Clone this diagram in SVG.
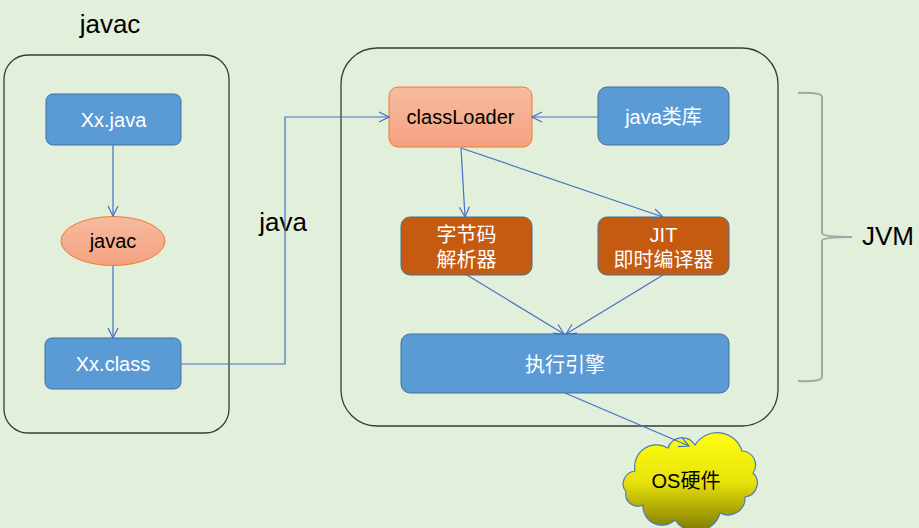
<svg xmlns="http://www.w3.org/2000/svg" width="919" height="528" viewBox="0 0 919 528">
<defs>
<linearGradient id="gOr" x1="0" y1="0" x2="0" y2="1"><stop offset="0" stop-color="#F7BBA0"/><stop offset="1" stop-color="#F4A280"/></linearGradient>
<linearGradient id="gCloud" x1="0" y1="0" x2="0" y2="1"><stop offset="0" stop-color="#FFFF10"/><stop offset="0.5" stop-color="#E8E20A"/><stop offset="1" stop-color="#7E7A00"/></linearGradient>
<marker id="arr" viewBox="0 0 12 12" refX="11" refY="6" markerWidth="12" markerHeight="12" markerUnits="userSpaceOnUse" orient="auto"><path d="M1 1 L11 6 L1 11" fill="none" stroke="#4472C4" stroke-width="1.2"/></marker>
<style>
.cont{fill:none;stroke:#3A3A3A;stroke-width:1.3}
.blue{fill:#5B9BD5;stroke:#41719C;stroke-width:1}
.rust{fill:#C55A11;stroke:#41719C;stroke-width:1}
.org{fill:url(#gOr);stroke:#ED7D31;stroke-width:1}
.t{font-family:"Liberation Sans","Noto Sans CJK SC",sans-serif;font-size:20px;text-anchor:middle}
.w{fill:#FFFFFF}
.k{fill:#000000}
.big{font-size:26px}
.c{fill:none;stroke:#4472C4;stroke-width:1.2;marker-end:url(#arr)}
</style>
</defs>
<rect width="919" height="528" fill="#E2EFDA"/>
<g id="javac-container">
<rect class="cont" x="4" y="55" width="225" height="378" rx="24"/>
<text class="t k big" x="110" y="33">javac</text>
</g>
<g id="jvm-container">
<rect class="cont" x="341" y="48" width="437" height="378" rx="36"/>
</g>
<text class="t k big" x="283" y="231">java</text>
<g id="xx-java">
<rect class="blue" x="46" y="94" width="135" height="51" rx="7"/>
<text class="t w" x="113.5" y="127">Xx.java</text>
</g>
<g id="javac">
<ellipse cx="113" cy="241" rx="52" ry="24.5" fill="url(#gOr)" stroke="#ED7D31" stroke-width="1"/>
<text class="t k" x="113" y="248">javac</text>
</g>
<g id="xx-class">
<rect class="blue" x="45" y="338" width="136" height="51" rx="7"/>
<text class="t w" x="113" y="371">Xx.class</text>
</g>
<g id="classloader">
<rect class="org" x="389" y="87" width="143" height="60" rx="9"/>
<text class="t k" x="460.5" y="124">classLoader</text>
</g>
<g id="java-lib">
<rect class="blue" x="598" y="87" width="131" height="58" rx="9"/>
<text class="t w" x="663.5" y="124">java类库</text>
</g>
<g id="bytecode">
<rect class="rust" x="401" y="217" width="131" height="58" rx="9"/>
<text class="t w" x="466.5" y="242">字节码</text>
<text class="t w" x="466.5" y="267">解析器</text>
</g>
<g id="jit">
<rect class="rust" x="598" y="217" width="131" height="58" rx="9"/>
<text class="t w" x="663.5" y="242">JIT</text>
<text class="t w" x="663.5" y="267">即时编译器</text>
</g>
<g id="engine">
<rect class="blue" x="401" y="334" width="328" height="59" rx="9"/>
<text class="t w" x="565" y="372">执行引擎</text>
</g>
<g id="os">
<path d="M635 471 A22 22 0 0 1 668 448 A15 15 0 0 1 695 445 A26 26 0 0 1 742 451 A14 14 0 0 1 753 473 A14 14 0 0 1 745 497 A17 17 0 0 1 720 513 A25 25 0 0 1 675 520 A19 19 0 0 1 643 505 A12 12 0 0 1 626 492 A13 13 0 0 1 635 471 Z" fill="url(#gCloud)" stroke="#4E7DB5" stroke-width="1.2"/>
<text class="t k" x="686" y="488">OS硬件</text>
</g>
<g id="jvm-brace">
<path d="M798 93 Q822 92 822 97 L822 233 Q822 237 852 237 Q822 237 822 241 L822 377 Q822 382 798 381" fill="none" stroke="#A6A6A6" stroke-width="2"/>
<text class="t k big" x="888" y="245">JVM</text>
</g>
<g id="connectors">
<line class="c" x1="113" y1="145" x2="113" y2="216"/>
<line class="c" x1="113" y1="266" x2="113" y2="338"/>
<polyline class="c" points="181,364 285,364 285,117 389,117"/>
<line class="c" x1="598" y1="117" x2="532" y2="117"/>
<line class="c" x1="461" y1="148" x2="465" y2="217"/>
<line class="c" x1="461" y1="148" x2="663" y2="217"/>
<line class="c" x1="467" y1="275" x2="564" y2="334"/>
<line class="c" x1="663" y1="275" x2="566" y2="334"/>
<line class="c" x1="565" y1="393" x2="689" y2="446"/>
</g>
</svg>
